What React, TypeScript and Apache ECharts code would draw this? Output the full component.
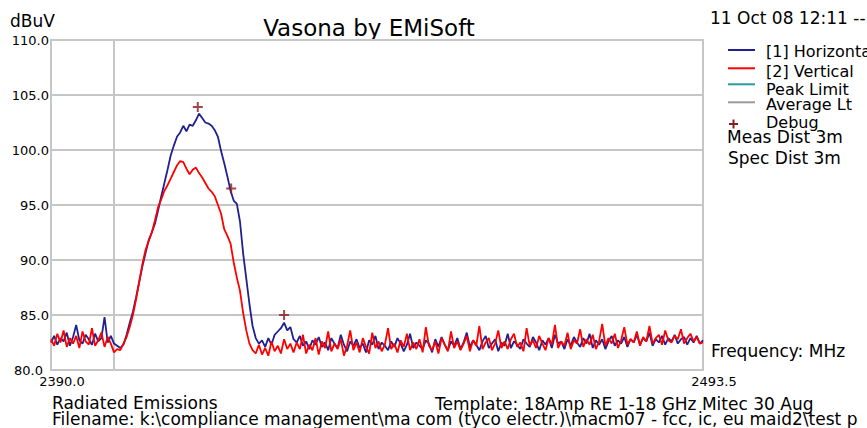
import React, { useEffect, useRef } from "react";
import * as echarts from "echarts";

// ---- Data ----
const FREQ_START = 2390;
const FREQ_STEP = 0.5;
const X_MIN = 2390;
const X_MAX = 2493.5;
const Y_MIN = 80;
const Y_MAX = 110;
const Y_STEP = 5;
const X_GRID_LINE = 2400;

// [1] Horizontal (dBuV), one value per 0.5 MHz from 2390.0 MHz
const HORIZONTAL = [
  82.5, 83.1, 82.3, 82.9, 82.6, 83.4, 82.2, 83.0, 84.1, 82.7, 82.4, 83.2, 82.8, 82.3, 83.3, 82.6, 82.9, 84.8, 82.5, 83.1, 82.4, 82.2,
  82.0, 82.3, 83.2, 84.3, 85.3, 86.6, 88.0, 89.4, 90.6, 91.8, 92.5, 93.3, 94.5, 95.8, 97.0, 98.2, 99.5, 100.4, 101.2, 101.6,
  102.2, 101.7, 102.3, 102.2, 102.7, 103.3, 102.9, 102.5, 102.4, 102.2, 101.8, 101.2, 99.9, 98.8, 97.6, 96.3, 95.4, 95.1, 93.5, 90.6,
  88.3, 86.0, 84.0, 82.9, 82.4, 82.7, 82.1, 82.9, 82.3, 83.2, 83.5, 83.8, 84.3, 83.6, 83.9,
  82.8, 82.5, 83.1, 82.2, 82.6, 81.9, 82.7, 82.3, 83.0, 82.1,
  82.5, 81.8, 82.9, 82.4, 82.0, 83.2, 82.3, 81.7, 82.6, 82.2,
  82.8, 82.0, 82.4, 81.6, 82.7, 82.3, 83.1, 81.9, 82.5, 82.2,
  81.8, 82.6, 82.1, 82.9, 82.4, 81.7, 82.3, 83.3, 82.0, 82.5,
  82.2, 81.9, 82.7, 82.4, 81.6, 82.8, 82.1, 83.0, 82.3, 81.8,
  82.6, 82.2, 82.9, 81.9, 82.5, 83.4, 82.1, 82.7, 82.3, 81.8,
  82.6, 83.1, 82.0, 82.4, 82.8, 81.7, 82.5, 82.2, 83.3, 82.0,
  82.6, 82.3, 81.9, 82.8, 82.4, 82.1, 83.0, 82.5, 81.8, 82.7,
  82.3, 82.9, 82.0, 83.2, 82.4, 82.6, 81.9, 82.8, 82.2, 83.0,
  82.5, 82.1, 82.9, 82.4, 83.3, 82.0, 82.7, 82.3, 82.8, 81.9,
  82.6, 83.1, 82.2, 82.7, 82.4, 83.0, 82.1, 82.8, 82.5, 83.2,
  82.3, 82.9, 82.6, 83.4, 82.2, 82.8, 82.5, 83.1, 82.3, 82.9,
  82.6, 83.2, 82.4, 82.8, 83.0, 82.3, 82.9, 82.5, 83.1, 82.4, 82.7,
];

// [2] Vertical (dBuV)
const VERTICAL = [
  82.8, 82.2, 83.3, 82.5, 83.6, 82.1, 82.9, 82.4, 83.1, 82.0, 83.5, 82.6, 82.3, 83.8, 82.2, 82.7, 83.4, 82.1, 83.0, 82.4, 81.6, 81.9,
  81.8, 82.4, 83.0, 83.9, 85.0, 86.4, 88.0, 89.6, 90.9, 91.7, 92.5, 93.6, 94.8, 95.5, 96.3, 96.8, 97.4, 98.0, 98.6, 99.0,
  98.9, 98.3, 97.8, 98.2, 98.4, 97.9, 97.5, 97.0, 96.5, 96.2, 95.8, 95.0, 94.2, 92.8, 92.2, 91.5, 89.8, 88.4, 87.2, 85.2,
  83.6, 82.4, 81.8, 81.5, 82.3, 81.4, 82.0, 81.3, 82.6, 81.7, 82.2, 81.5, 82.8, 81.9, 82.4,
  81.6, 82.5, 81.9, 83.2, 81.5, 82.3, 81.8, 82.9, 81.4, 82.6,
  82.0, 83.5, 81.7, 82.4, 81.9, 82.8, 81.3, 82.2, 83.6, 81.8,
  82.5, 81.6, 82.9, 82.1, 81.5, 83.4, 82.0, 82.6, 81.7, 82.3,
  83.8, 81.9, 82.4, 81.6, 82.7, 82.1, 83.3, 81.8, 82.5, 81.9,
  82.8, 81.6, 83.9, 82.2, 81.8, 82.6, 81.5, 82.9, 82.3, 81.7,
  83.5, 82.0, 82.6, 81.8, 82.4, 83.1, 81.7, 82.7, 82.2, 84.0,
  81.9, 82.5, 82.9, 81.8, 82.4, 83.6, 82.0, 82.6, 81.9, 82.8,
  83.3, 82.1, 82.5, 81.7, 83.8, 82.2, 82.7, 82.0, 83.1, 82.4,
  81.8, 82.9, 82.3, 84.1, 82.0, 82.6, 82.2, 83.4, 81.9, 82.7,
  82.4, 83.7, 82.1, 82.8, 82.3, 83.2, 81.9, 82.6, 84.2, 82.2,
  82.9, 82.4, 83.3, 82.0, 82.7, 83.9, 82.3, 82.8, 82.5, 83.5,
  82.2, 83.0, 82.6, 84.0, 82.4, 82.9, 83.2, 82.3, 83.6, 82.7,
  82.5, 83.1, 82.8, 83.7, 82.4, 82.9, 83.3, 82.6, 83.0, 82.4, 82.5,
];

// Debug markers
const DEBUG_FREQ = [2413.3, 2418.6, 2427.0];
const DEBUG_LEVEL = [103.9, 96.5, 85.0];

const LEGEND_NAMES = ["[1] Horizontal", "[2] Vertical", "Peak Limit", "Average Lt", "Debug"];

const TITLE = "Vasona by EMiSoft";
const DATE_TEXT = "11 Oct 08 12:11 --";
const Y_UNIT = "dBuV";
const X_UNIT = "Frequency: MHz";
const NOTES = ["Meas Dist 3m", "Spec Dist 3m"];
const FOOT_LEFT = "Radiated Emissions";
const FOOT_TEMPLATE = "Template: 18Amp RE 1-18 GHz Mitec 30 Aug";
const FOOT_FILE = "Filename: k:\\compliance management\\ma com (tyco electr.)\\macm07 - fcc, ic, eu maid2\\test p";

const BLUE = "#202090";
const RED = "#ff0000";
const TEAL = "#2a9d9d";
const GREY = "#9a9a9a";
const DEBUG_COLOR = "#8b1a1a";
const GRID_COLOR = "#c6c6c6";
const FONT = '"DejaVu Sans", Verdana, sans-serif';

const PLUS = "path://M4,0H6V4H10V6H6V10H4V6H0V4H4Z";

function txt(text: string, x: number, y: number, size: number, align = "left") {
  return {
    type: "text",
    x,
    y,
    silent: true,
    style: {
      text,
      font: `${size}px ${FONT}`,
      fill: "#000",
      align,
      textAlign: align,
      verticalAlign: "middle",
      textVerticalAlign: "middle",
    },
  };
}

function hline(x1: number, x2: number, y: number, color: string) {
  return {
    type: "line",
    silent: true,
    shape: { x1, y1: y, x2, y2: y },
    style: { stroke: color, lineWidth: 2 },
  };
}

export default function App() {
  const ref = useRef<HTMLDivElement>(null);

  useEffect(() => {
    document.body.style.margin = "0";
    if (!ref.current) return;
    const chart = echarts.init(ref.current, null, { renderer: "svg" });

    const hData = HORIZONTAL.map((v, i) => [FREQ_START + i * FREQ_STEP, v]);
    const vData = VERTICAL.map((v, i) => [FREQ_START + i * FREQ_STEP, v]);
    const dData = DEBUG_FREQ.map((f, i) => [f, DEBUG_LEVEL[i]]);

    const legendX = 728;
    const legendTextX = 766;
    const legendLineY = [50, 68.3, 84.3, 102.3];
    const legendTextY = [51.6, 71.3, 89.6, 104.6, 122.6];
    const legendColors = [BLUE, RED, TEAL, GREY];

    const graphic: any[] = [
      txt(Y_UNIT, 10, 20.5, 17),
      txt(TITLE, 369, 27.5, 23, "center"),
      txt(DATE_TEXT, 710, 17.5, 17),
      ...legendColors.map((c, i) => hline(legendX, legendX + 27, legendLineY[i], c)),
      {
        type: "line",
        silent: true,
        shape: { x1: 729, y1: 124, x2: 738, y2: 124 },
        style: { stroke: DEBUG_COLOR, lineWidth: 2 },
      },
      {
        type: "line",
        silent: true,
        shape: { x1: 733.5, y1: 119.5, x2: 733.5, y2: 128.5 },
        style: { stroke: DEBUG_COLOR, lineWidth: 2 },
      },
      ...LEGEND_NAMES.map((n, i) => txt(n, legendTextX, legendTextY[i], 16)),
      txt(NOTES[0], 727, 136.7, 17),
      txt(NOTES[1], 728, 158.4, 17),
      txt(X_UNIT, 711, 351, 17),
      txt(FOOT_LEFT, 52, 403.4, 17),
      txt(FOOT_TEMPLATE, 435, 404, 17),
      txt(FOOT_FILE, 52, 418.7, 17),
    ];

    chart.setOption({
      animation: false,
      backgroundColor: "#fff",
      grid: {
        left: 51,
        top: 40,
        right: 164,
        bottom: 58,
        show: true,
        borderColor: GRID_COLOR,
        borderWidth: 2,
        containLabel: false,
        outerBoundsMode: "none",
      },
      xAxis: {
        type: "value",
        min: X_MIN,
        max: X_MAX,
        interval: X_MAX - X_MIN,
        axisLine: { show: false },
        axisTick: { show: false },
        splitLine: { show: false },
        axisLabel: {
          showMinLabel: true,
          showMaxLabel: true,
          formatter: (v: number) => v.toFixed(1),
          fontFamily: FONT,
          fontSize: 13,
          color: "#000",
          margin: 5,
          padding: [0, 0, 0, 22],
        },
      },
      yAxis: {
        type: "value",
        min: Y_MIN,
        max: Y_MAX,
        interval: Y_STEP,
        axisLine: { show: false },
        axisTick: { show: false },
        splitLine: { show: true, lineStyle: { color: GRID_COLOR, width: 2 } },
        axisLabel: {
          formatter: (v: number) => (v === Y_MIN ? `{s|${v.toFixed(1)}}` : v.toFixed(1)),
          rich: { s: { fontFamily: FONT, fontSize: 13, color: "#000", padding: [0, 6, 0, 0] } },
          fontFamily: FONT,
          fontSize: 13,
          color: "#000",
          margin: 2,
        },
      },
      series: [
        {
          name: LEGEND_NAMES[0],
          type: "line",
          data: hData,
          symbol: "none",
          z: 10,
          lineStyle: { color: BLUE, width: 1.8 },
          itemStyle: { color: BLUE },
          markLine: {
            silent: true,
            symbol: "none",
            label: { show: false },
            lineStyle: { color: GRID_COLOR, width: 2, type: "solid" },
            data: [{ xAxis: X_GRID_LINE }],
          },
        },
        {
          name: LEGEND_NAMES[1],
          type: "line",
          data: vData,
          symbol: "none",
          z: 11,
          lineStyle: { color: RED, width: 1.8 },
          itemStyle: { color: RED },
        },
        {
          name: LEGEND_NAMES[2],
          type: "line",
          data: [],
          symbol: "none",
          lineStyle: { color: TEAL, width: 2 },
        },
        {
          name: LEGEND_NAMES[3],
          type: "line",
          data: [],
          symbol: "none",
          lineStyle: { color: GREY, width: 2 },
        },
        {
          name: LEGEND_NAMES[4],
          type: "scatter",
          data: dData,
          symbol: PLUS,
          symbolSize: 10,
          z: 12,
          itemStyle: { color: DEBUG_COLOR },
        },
      ],
      graphic,
    });

    return () => chart.dispose();
  }, []);

  return <div ref={ref} style={{ width: 867, height: 428 }} />;
}
